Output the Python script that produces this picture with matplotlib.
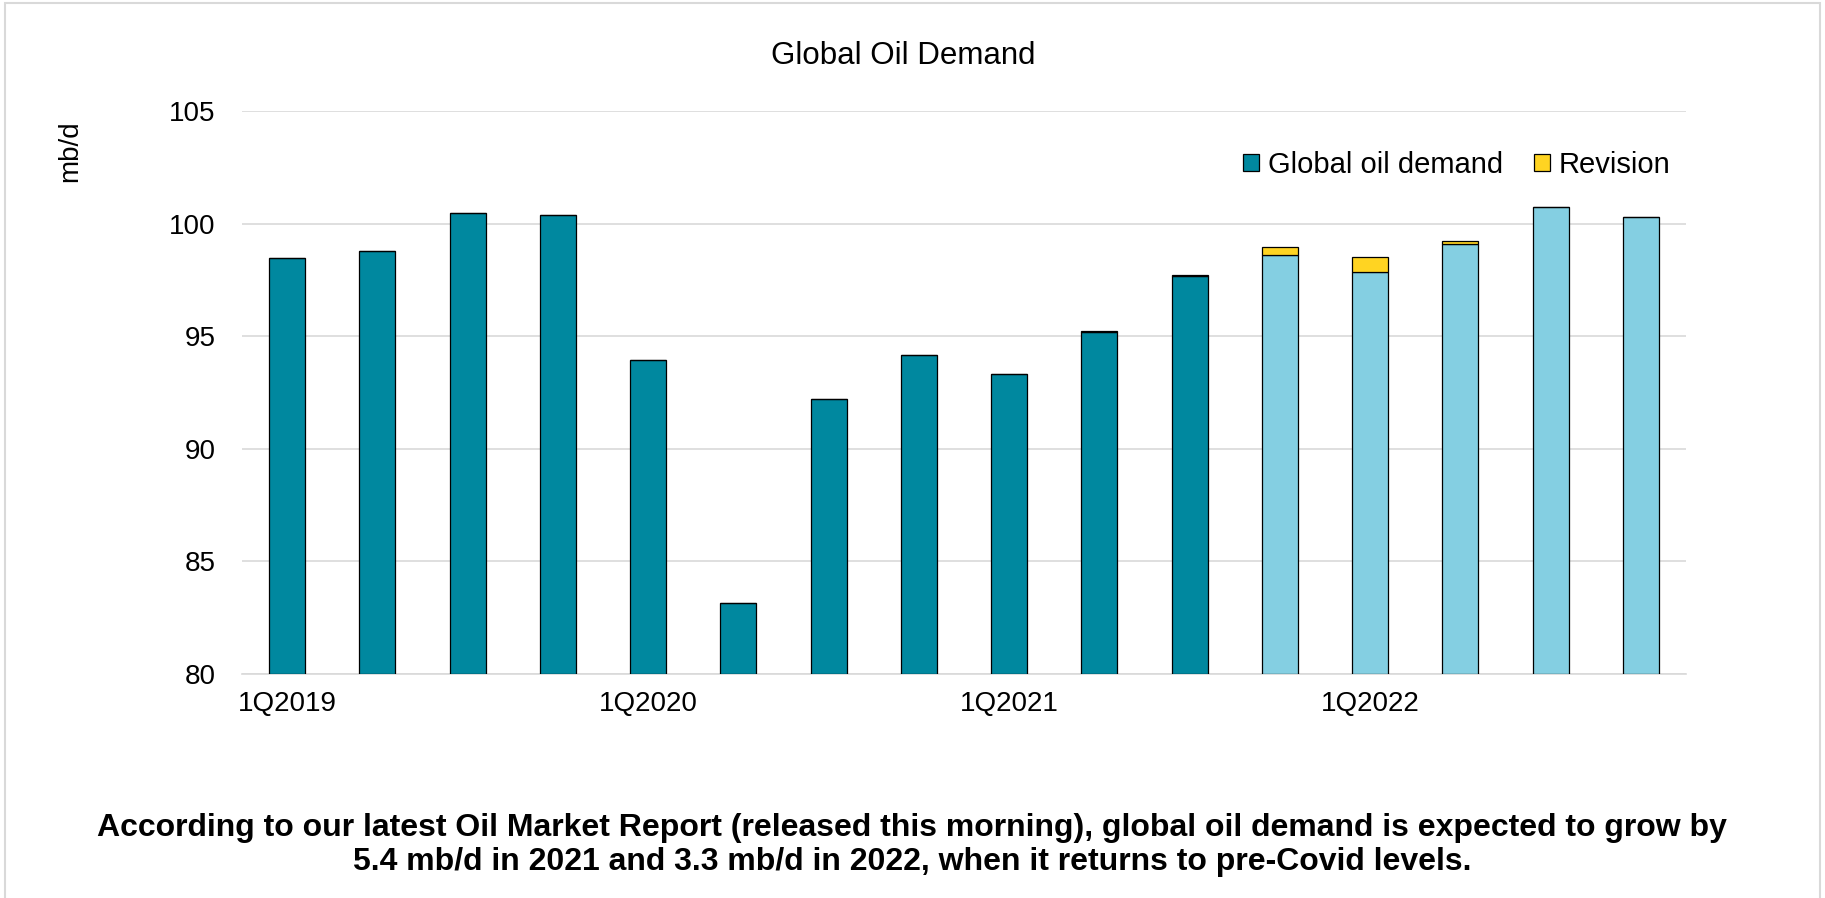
import matplotlib
matplotlib.use("Agg")
import matplotlib.pyplot as plt
from matplotlib.patches import Patch, Rectangle

plt.rcParams['font.family'] = ['Liberation Sans', 'DejaVu Sans']

# Quarterly global oil demand (mb/d) and latest revisions
quarters = ["1Q2019", "2Q2019", "3Q2019", "4Q2019",
            "1Q2020", "2Q2020", "3Q2020", "4Q2020",
            "1Q2021", "2Q2021", "3Q2021", "4Q2021",
            "1Q2022", "2Q2022", "3Q2022", "4Q2022"]
demand = [98.47, 98.80, 100.47, 100.40,
          93.94, 83.15, 92.20, 94.16,
          93.30, 95.17, 97.67, 98.61,
          97.85, 99.10, 100.75, 100.28]
revision = [0, 0, 0, 0,
            0, 0, 0, 0,
            0, 0.05, 0.04, 0.33,
            0.66, 0.12, 0, 0]
forecast = [False] * 11 + [True] * 5
tick_labels = {"1Q2019": "1Q2019", "1Q2020": "1Q2020",
               "1Q2021": "1Q2021", "1Q2022": "1Q2022"}

DARK = "#00889F"
LIGHT = "#84CFE2"
YELLOW = "#FFD422"
GRID = "#D9D9D9"

W, H = 1825, 898
fig = plt.figure(figsize=(W / 100, H / 100), dpi=100)
fig.patch.set_facecolor("white")

# outer frame of the chart
fig.add_artist(Rectangle((5 / W, -0.01), 1815 / W, 1 - 3 / H + 0.01,
                         transform=fig.transFigure, fill=False,
                         edgecolor=GRID, linewidth=1.5))

ax = fig.add_axes([242 / W, 1 - 674 / H, 1444 / W, (674 - 111) / H])
x = list(range(len(quarters)))
base_colors = [LIGHT if f else DARK for f in forecast]
bottom = 80
ax.bar(x, [d - bottom for d in demand], bottom=bottom, width=0.4,
       color=base_colors, edgecolor="black", linewidth=0.9, zorder=3)
ax.bar(x, revision, bottom=demand, width=0.4, color=YELLOW,
       edgecolor="black", linewidth=0.9, zorder=3)

ax.set_ylim(80, 105)
ax.set_xlim(-0.5, len(quarters) - 0.5)
ax.set_yticks([80, 85, 90, 95, 100, 105])
ax.yaxis.grid(True, color=GRID, linewidth=1.2, zorder=0)
ax.set_axisbelow(True)
for s in ["top", "right", "left"]:
    ax.spines[s].set_visible(False)
ax.spines["bottom"].set_color(GRID)
ax.spines["bottom"].set_linewidth(1.2)

ticks = [i for i, q in enumerate(quarters) if q in tick_labels]
ax.set_xticks(ticks)
ax.set_xticklabels([tick_labels[quarters[i]] for i in ticks])
ax.tick_params(axis="both", length=0, labelsize=20, colors="black")
ax.tick_params(axis="y", pad=19)
ax.tick_params(axis="x", pad=12)

fig.text(70 / W, 1 - 151 / H, "mb/d", rotation=90, ha="center",
         va="center", fontsize=20)
fig.text(903 / W, 1 - 56 / H, "Global Oil Demand", ha="center",
         va="center", fontsize=22.5)

handles = [Patch(facecolor=DARK, edgecolor="black", linewidth=0.9,
                 label="Global oil demand"),
           Patch(facecolor=YELLOW, edgecolor="black", linewidth=0.9,
                 label="Revision")]
fig.legend(handles=handles, loc="center left",
           bbox_to_anchor=(1243 / W, 1 - 165 / H), ncol=2, frameon=False,
           fontsize=21, borderpad=0, borderaxespad=0,
           handlelength=0.55, handleheight=0.55, handletextpad=0.3,
           columnspacing=1.05)

fig.text(912 / W, 1 - 845 / H,
         "According to our latest Oil Market Report (released this morning), "
         "global oil demand is expected to grow by\n"
         "5.4 mb/d in 2021 and 3.3 mb/d in 2022, when it returns to "
         "pre-Covid levels.",
         ha="center", va="center", fontsize=23, fontweight="bold",
         linespacing=1.18)

fig.savefig("out.png", dpi=100, facecolor="white")
